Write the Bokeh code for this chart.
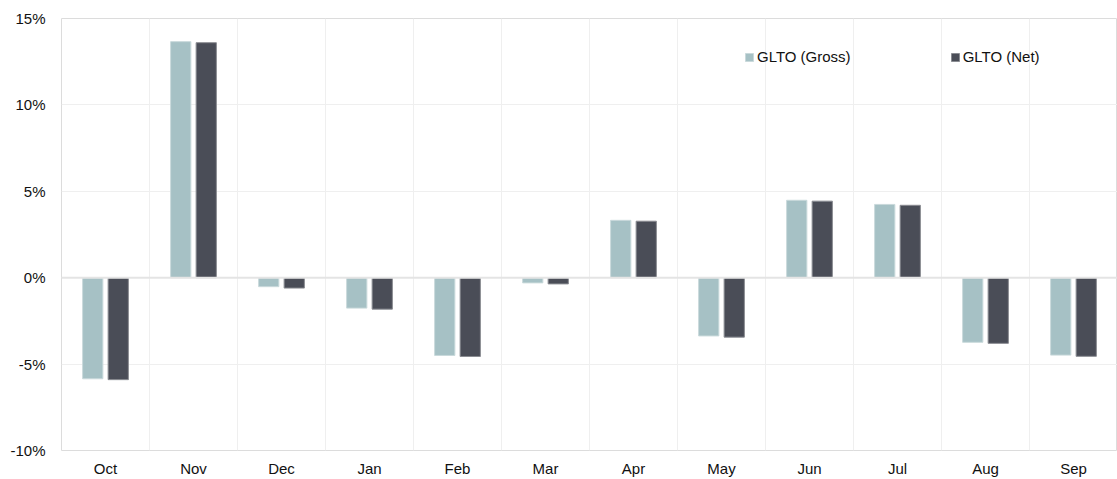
from bokeh.plotting import figure
from bokeh.models import FixedTicker, PrintfTickFormatter, ColumnDataSource, Legend, LegendItem, Span, Range1d
from bokeh.embed import file_html
from bokeh.resources import INLINE

months = ["Oct", "Nov", "Dec", "Jan", "Feb", "Mar", "Apr", "May", "Jun", "Jul", "Aug", "Sep"]
gross = [-5.85, 13.66, -0.52, -1.76, -4.5, -0.3, 3.32, -3.37, 4.48, 4.24, -3.74, -4.48]
net = [-5.9, 13.6, -0.6, -1.82, -4.56, -0.36, 3.27, -3.44, 4.43, 4.19, -3.8, -4.55]
y_ticks = [-10, -5, 0, 5, 10, 15]

GROSS_COLOR = "#A6C1C5"
NET_COLOR = "#4A4D57"
FONT = "Liberation Sans"

idx = [i + 0.5 for i in range(len(months))]
src = ColumnDataSource(dict(
    xg=[x - 0.145 for x in idx], xn=[x + 0.145 for x in idx],
    gross=gross, net=net))

p = figure(width=1117, height=479, output_backend="svg", toolbar_location=None,
           x_range=Range1d(0, 12), y_range=Range1d(-10, 15),
           min_border_left=61, min_border_right=0, min_border_top=18, min_border_bottom=27)

rg = p.vbar(x="xg", top="gross", bottom=0, width=0.23, source=src,
            fill_color=GROSS_COLOR, line_color="#C9D9DB", line_width=1)
rn = p.vbar(x="xn", top="net", bottom=0, width=0.23, source=src,
            fill_color=NET_COLOR, line_color="#8A8C92", line_width=1)

p.xaxis.ticker = FixedTicker(ticks=idx)
p.xaxis.major_label_overrides = {x: m for x, m in zip(idx, months)}
p.yaxis.ticker = FixedTicker(ticks=y_ticks)
p.yaxis.formatter = PrintfTickFormatter(format="%d%%")

for ax in (p.xaxis[0], p.yaxis[0]):
    ax.axis_line_color = None
    ax.major_tick_line_color = None
    ax.minor_tick_line_color = None
    ax.major_tick_out = 0
    ax.major_tick_in = 0
    ax.minor_tick_out = 0
    ax.major_label_text_font = FONT
    ax.major_label_text_font_size = "15px"
    ax.major_label_text_color = "#111111"
p.xaxis.major_label_standoff = 9
p.yaxis.major_label_standoff = 16

p.xgrid.ticker = FixedTicker(ticks=list(range(1, 12)))
p.xgrid.grid_line_color = "#EFEFEF"
p.ygrid.grid_line_color = "#EFEFEF"
p.outline_line_color = "#DCDCDC"

p.add_layout(Span(location=0, dimension="width", line_color="#E4E4E4", line_width=2), "center")

legend = Legend(items=[LegendItem(label="GLTO (Gross)", renderers=[rg]),
                       LegendItem(label="GLTO (Net)", renderers=[rn])],
                orientation="horizontal", location=(683, 385),
                glyph_width=10, glyph_height=10, spacing=99, padding=4,
                label_text_font=FONT, label_text_font_size="15px",
                label_text_color="#111111", label_standoff=3,
                background_fill_alpha=0, border_line_color=None)
p.add_layout(legend, "center")

open("out.html", "w").write(file_html(p, INLINE))
